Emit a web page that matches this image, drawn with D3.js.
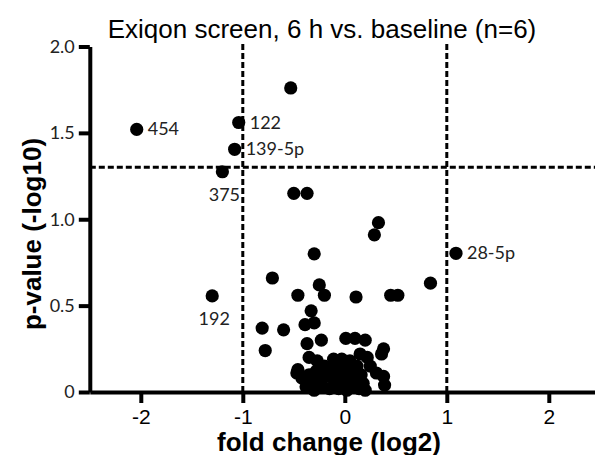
<!DOCTYPE html>
<html>
<head>
<meta charset="utf-8">
<script src="https://cdn.jsdelivr.net/npm/d3@7"></script>
<style>
  html, body { margin: 0; padding: 0; background: #fff; }
  svg { display: block; }
</style>
</head>
<body>
<svg id="chart" width="595" height="455"></svg>
<script>
// miRNA volcano plot: log2 fold change vs. -log10 p-value

// Unlabelled miRNAs
const foldChange = [
  -0.53, -0.50, -0.37, 0.33, 0.29, -0.30, -0.71, -0.25, -0.20, -0.46,
  0.11, 0.45, 0.52, 0.84, -0.33, -0.39, -0.30, -0.81, -0.60, -0.78,
  -0.47, -0.37, -0.23, 0.01, 0.10, 0.20, 0.38, 0.36, -0.35, -0.46,
  -0.11, -0.03, 0.15, 0.22, 0.25, 0.31, 0.38, 0.39, -0.24,
  -0.42, -0.38, -0.35, -0.32, -0.30, -0.28, -0.25, -0.22, -0.20, -0.18,
  -0.15, -0.13, -0.10, -0.08, -0.06, -0.04, -0.02, 0.00, 0.02, 0.04,
  0.06, 0.08, 0.10, 0.12, 0.14, 0.16, 0.18, 0.20, -0.27, 0.05
];
const negLogP = [
  1.76, 1.15, 1.15, 0.98, 0.91, 0.80, 0.66, 0.62, 0.56, 0.56,
  0.55, 0.56, 0.56, 0.63, 0.47, 0.39, 0.40, 0.37, 0.36, 0.24,
  0.11, 0.28, 0.30, 0.31, 0.31, 0.30, 0.25, 0.22, 0.20, 0.13,
  0.19, 0.19, 0.22, 0.20, 0.15, 0.11, 0.09, 0.04, 0.15,
  0.08, 0.03, 0.10, 0.05, 0.01, 0.12, 0.07, 0.03, 0.15, 0.09,
  0.02, 0.12, 0.06, 0.16, 0.02, 0.10, 0.05, 0.14, 0.01, 0.08,
  0.12, 0.03, 0.07, 0.15, 0.02, 0.10, 0.05, 0.01, 0.18, 0.18
];

// Named miRNAs
const namedLabels = ["454", "122", "139-5p", "375", "192", "28-5p"];
const namedFold   = [-2.04, -1.04, -1.08, -1.20, -1.30, 1.09];
const namedP      = [1.52, 1.56, 1.405, 1.275, 0.556, 0.803];

// Axis ticks
const xTicks = [-2, -1, 0, 1, 2];
const yTicks = [0, 0.5, 1.0, 1.5, 2.0];

// Thresholds: |log2 FC| = 1 and p = 0.05
const foldThresholds = [-1, 1];
const pThreshold = -Math.log10(0.05);

// Label placement: to the right of the dot, or underneath it
const labelSide = { "454": "right", "122": "right", "139-5p": "right", "375": "below", "192": "below", "28-5p": "right" };

const svg = d3.select("#chart");
const x = d3.scaleLinear().domain([-2.5, 2.5]).range([89.8, 599.8]);
const y = d3.scaleLinear().domain([0, 2]).range([392, 46.5]);

const sans = "'Liberation Sans', Arial, sans-serif";
const soft = "Lato, 'Open Sans', sans-serif";

// Threshold lines
const dash = "6,3";
svg.selectAll("line.vthr").data(foldThresholds).join("line")
  .attr("class", "vthr")
  .attr("x1", d => x(d)).attr("x2", d => x(d))
  .attr("y1", y(0)).attr("y2", y(2.03))
  .attr("stroke", "#000").attr("stroke-width", 3).attr("stroke-dasharray", dash);
svg.append("line")
  .attr("x1", x(-2.5)).attr("x2", x(2.5))
  .attr("y1", y(pThreshold)).attr("y2", y(pThreshold))
  .attr("stroke", "#000").attr("stroke-width", 3).attr("stroke-dasharray", dash);

// Axes
const xAxis = svg.append("g")
  .attr("transform", `translate(0,${y(0)})`)
  .call(d3.axisBottom(x).tickValues(xTicks).tickFormat(d => String(d))
    .tickSizeInner(11).tickSizeOuter(0).tickPadding(6));
const yAxis = svg.append("g")
  .attr("transform", `translate(${x(-2.5)},0)`)
  .call(d3.axisLeft(y).tickValues(yTicks)
    .tickFormat(d => d === 0 ? "0" : d.toFixed(1))
    .tickSizeInner(11).tickSizeOuter(0).tickPadding(4));

[xAxis, yAxis].forEach(g => {
  g.select(".domain").attr("stroke", "#000").attr("stroke-width", 4);
  g.selectAll(".tick line").attr("stroke", "#000").attr("stroke-width", 4);
});
xAxis.selectAll(".tick text")
  .attr("font-family", sans).attr("font-size", 21).attr("fill", "#000");
yAxis.selectAll(".tick text")
  .attr("font-family", soft).attr("font-size", 18).attr("fill", "#222");

// Points
const pts = foldChange.map((f, i) => ({ f, p: negLogP[i] }));
svg.append("g").selectAll("circle").data(pts).join("circle")
  .attr("cx", d => x(d.f)).attr("cy", d => y(d.p)).attr("r", 6.6).attr("fill", "#000");

const named = namedLabels.map((name, i) => ({ name, f: namedFold[i], p: namedP[i] }));
const ng = svg.append("g");
ng.selectAll("circle").data(named).join("circle")
  .attr("cx", d => x(d.f)).attr("cy", d => y(d.p)).attr("r", 6.6).attr("fill", "#000");
ng.selectAll("text").data(named).join("text")
  .attr("x", d => labelSide[d.name] === "right" ? x(d.f) + 11 : x(d.f) + 2)
  .attr("y", d => labelSide[d.name] === "right" ? y(d.p) + 6 : y(d.p) + 29)
  .attr("text-anchor", d => labelSide[d.name] === "right" ? "start" : "middle")
  .attr("font-family", soft).attr("font-size", 18).attr("fill", "#222")
  .text(d => d.name);

// Titles
svg.append("text")
  .attr("x", 322).attr("y", 38).attr("text-anchor", "middle")
  .attr("font-family", sans).attr("font-size", 26).attr("fill", "#000")
  .text("Exiqon screen, 6 h vs. baseline (n=6)");
svg.append("text")
  .attr("x", 329).attr("y", 451).attr("text-anchor", "middle")
  .attr("font-family", sans).attr("font-size", 26).attr("font-weight", "bold").attr("fill", "#000")
  .text("fold change (log2)");
svg.append("text")
  .attr("transform", "translate(41,234) rotate(-90)").attr("text-anchor", "middle")
  .attr("font-family", sans).attr("font-size", 26).attr("font-weight", "bold").attr("fill", "#000")
  .text("p-value (-log10)");
</script>
</body>
</html>
